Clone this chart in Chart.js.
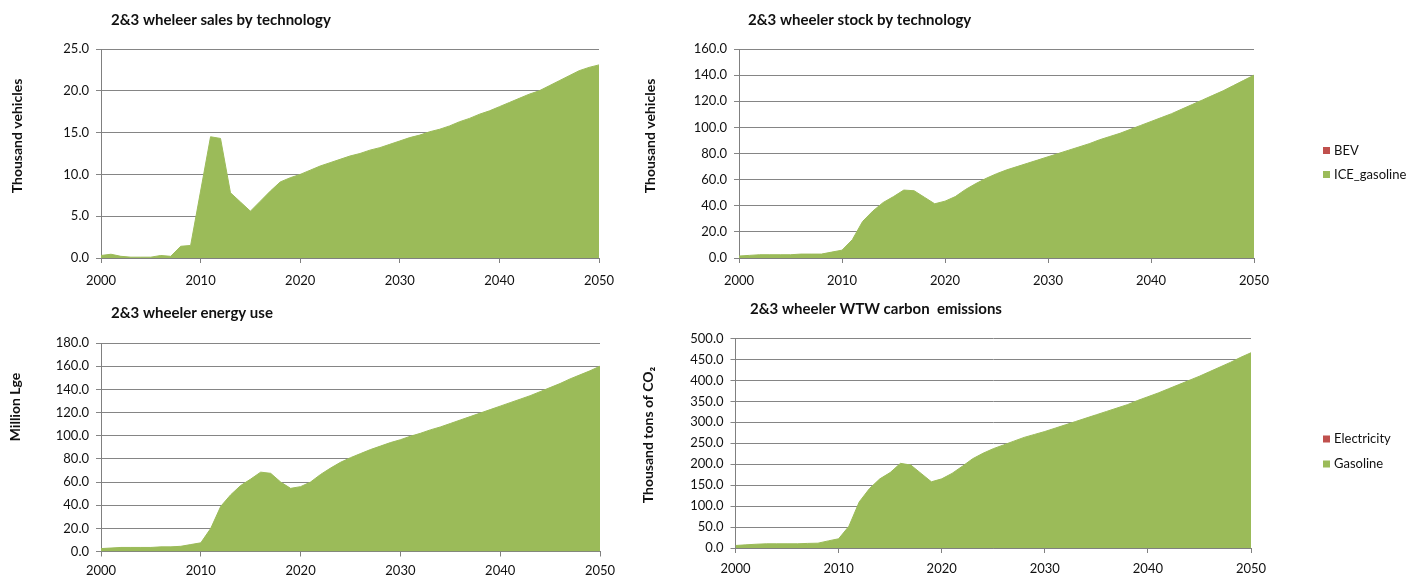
<!DOCTYPE html>
<html lang="en">
<head>
<meta charset="UTF-8">
<title>2&amp;3 wheeler outlook</title>
<style>
    body {
        margin: 0;
        background: #ffffff;
        width: 1421px;
        height: 575px;
        overflow: hidden;
        position: relative;
    }
    canvas {
        position: absolute;
        display: block;
    }
    #sales { left: 0; top: 0; }
    #stock { left: 620px; top: 0; }
    #energy { left: 0; top: 290px; }
    #carbon { left: 620px; top: 290px; }
</style>
<script src="https://cdn.jsdelivr.net/npm/chart.js@4/dist/chart.umd.min.js"></script>
</head>
<body>
<canvas id="sales" width="620" height="290"></canvas>
<canvas id="stock" width="801" height="290"></canvas>
<canvas id="energy" width="620" height="285"></canvas>
<canvas id="carbon" width="801" height="285"></canvas>
<script>
    const years = [
        2000, 2001, 2002, 2003, 2004, 2005, 2006, 2007, 2008, 2009,
        2010, 2011, 2012, 2013, 2014, 2015, 2016, 2017, 2018, 2019,
        2020, 2021, 2022, 2023, 2024, 2025, 2026, 2027, 2028, 2029,
        2030, 2031, 2032, 2033, 2034, 2035, 2036, 2037, 2038, 2039,
        2040, 2041, 2042, 2043, 2044, 2045, 2046, 2047, 2048, 2049, 2050
    ];

    // thousand vehicles sold per year
    const salesBev = [
        0, 0, 0, 0, 0, 0, 0, 0, 0, 0,
        0, 0, 0, 0, 0, 0, 0, 0, 0, 0,
        0, 0, 0, 0, 0, 0, 0, 0, 0, 0,
        0, 0, 0, 0, 0, 0, 0, 0, 0, 0,
        0, 0, 0, 0, 0, 0, 0, 0, 0, 0, 0
    ];
    const salesIce = [
        0.3, 0.45, 0.2, 0.1, 0.1, 0.1, 0.3, 0.2, 1.4, 1.5,
        8.0, 14.5, 14.3, 7.8, 6.7, 5.6, 6.8, 8.0, 9.1, 9.6,
        10.0, 10.5, 11.0, 11.4, 11.8, 12.2, 12.5, 12.9, 13.2, 13.6,
        14.0, 14.4, 14.7, 15.1, 15.4, 15.8, 16.3, 16.7, 17.2, 17.6,
        18.1, 18.6, 19.1, 19.6, 20.0, 20.6, 21.2, 21.8, 22.4, 22.8, 23.1
    ];

    // thousand vehicles on the road
    const stockBev = [
        0, 0, 0, 0, 0, 0, 0, 0, 0, 0,
        0, 0, 0, 0, 0, 0, 0, 0, 0, 0,
        0, 0, 0, 0, 0, 0, 0, 0, 0, 0,
        0, 0, 0, 0, 0, 0, 0, 0, 0, 0,
        0, 0, 0, 0, 0, 0, 0, 0, 0, 0, 0
    ];
    const stockIce = [
        1.5, 2.0, 2.5, 2.5, 2.5, 2.5, 3.0, 3.0, 3.0, 4.5,
        6.0, 14.0, 28.0, 36.0, 42.5, 47.0, 52.0, 51.5, 46.5, 41.5,
        43.5, 47.0, 52.5, 57.0, 61.0, 64.5, 67.5, 70.0, 72.5, 75.0,
        77.5, 80.0, 82.5, 85.0, 87.5, 90.5, 93.0, 95.5, 98.5, 101.5,
        104.5, 107.5, 110.5, 114.0, 117.5, 121.0, 124.5, 128.0, 132.0, 136.0, 140.0
    ];

    // million litres gasoline equivalent
    const energyElectricity = [
        0, 0, 0, 0, 0, 0, 0, 0, 0, 0,
        0, 0, 0, 0, 0, 0, 0, 0, 0, 0,
        0, 0, 0, 0, 0, 0, 0, 0, 0, 0,
        0, 0, 0, 0, 0, 0, 0, 0, 0, 0,
        0, 0, 0, 0, 0, 0, 0, 0, 0, 0, 0
    ];
    const energyGasoline = [
        2.5, 3.0, 3.5, 3.5, 3.5, 3.5, 4.0, 4.0, 4.5, 6.0,
        7.5, 20.0, 39.0, 49.0, 57.0, 62.5, 68.5, 67.5, 60.0, 54.5,
        56.0, 60.0, 66.5, 72.0, 77.0, 81.0, 84.5, 88.0, 91.0, 94.0,
        96.5, 99.5, 102.0, 105.0, 107.5, 110.5, 113.5, 116.5, 119.5, 122.5,
        125.5, 128.5, 131.5, 134.5, 138.0, 141.5, 145.0, 149.0, 152.5, 156.0, 160.0
    ];

    // thousand tons of CO2, well to wheel
    const carbonElectricity = [
        0, 0, 0, 0, 0, 0, 0, 0, 0, 0,
        0, 0, 0, 0, 0, 0, 0, 0, 0, 0,
        0, 0, 0, 0, 0, 0, 0, 0, 0, 0,
        0, 0, 0, 0, 0, 0, 0, 0, 0, 0,
        0, 0, 0, 0, 0, 0, 0, 0, 0, 0, 0
    ];
    const carbonGasoline = [
        6, 7.5, 9, 10, 10, 10, 10, 11, 11.5, 17,
        22, 52, 110, 142, 165, 180, 202, 198, 178, 158,
        165, 178, 195, 213, 226, 237, 246, 255, 264, 271,
        278, 286, 294, 302, 310, 318, 326, 334, 342, 352,
        361, 370, 380, 390, 400, 410, 421, 432, 443, 455, 466
    ];

    const RED = '#c0504d';
    const GREEN = '#9bbb59';
    const GRID = '#858585';
    const AXIS = '#808080';
    const TEXT = '#111111';
    const FONT = 'Lato, "Open Sans", sans-serif';

    // chart title, rotated axis title and the side legend, placed freely like the spreadsheet did
    const panelText = {
        id: 'panelText',
        afterDraw(chart, args, opts) {
            const ctx = chart.ctx;
            ctx.save();
            ctx.fillStyle = TEXT;
            ctx.textBaseline = 'middle';

            ctx.font = 'bold 15px ' + FONT;
            ctx.textAlign = 'left';
            ctx.fillText(opts.title, opts.titleX, opts.titleY);

            ctx.save();
            ctx.translate(opts.axisX, opts.axisY);
            ctx.rotate(-Math.PI / 2);
            ctx.textAlign = 'center';
            ctx.font = 'bold 14px ' + FONT;
            ctx.fillText(opts.axisTitle, 0, 0);
            ctx.restore();

            if (opts.legend) {
                ctx.font = '13px ' + FONT;
                chart.data.datasets.forEach((ds, i) => {
                    const y = opts.legendY + i * opts.legendGap;
                    ctx.fillStyle = ds.backgroundColor;
                    ctx.fillRect(opts.legendX, y - 3.5, 7, 7);
                    ctx.fillStyle = TEXT;
                    ctx.fillText(ds.label, opts.legendX + 11, y);
                });
            }
            ctx.restore();
        }
    };

    function buildChart(id, o) {
        return new Chart(document.getElementById(id), {
            type: 'line',
            data: {
                labels: years,
                datasets: [
                    {
                        label: o.names[0],
                        data: o.series[0],
                        backgroundColor: RED,
                        borderColor: 'rgba(0,0,0,0)',
                        fill: 'origin'
                    },
                    {
                        label: o.names[1],
                        data: o.series[1],
                        backgroundColor: GREEN,
                        borderColor: GREEN,
                        borderWidth: 1,
                        fill: '-1'
                    }
                ]
            },
            options: {
                responsive: false,
                animation: false,
                events: [],
                elements: {
                    point: { radius: 0 },
                    line: { tension: 0 }
                },
                layout: { padding: o.padding },
                plugins: {
                    legend: { display: false },
                    tooltip: { enabled: false },
                    panelText: o.text
                },
                scales: {
                    x: {
                        type: 'linear',
                        min: 2000,
                        max: 2050,
                        z: 1,
                        ticks: {
                            stepSize: 10,
                            autoSkip: false,
                            maxRotation: 0,
                            padding: o.xPad,
                            color: TEXT,
                            font: { family: FONT, size: 13 },
                            callback: v => String(v)
                        },
                        grid: { drawOnChartArea: false, tickLength: 5, color: AXIS },
                        border: { color: AXIS },
                        afterFit: s => {
                            // end labels may hang past the plot edge, the layout padding leaves room
                            s.height = o.xHeight;
                            s.paddingLeft = 0;
                            s.paddingRight = 0;
                        }
                    },
                    y: {
                        stacked: true,
                        min: 0,
                        max: o.max,
                        ticks: {
                            stepSize: o.step,
                            padding: 7,
                            color: TEXT,
                            font: { family: FONT, size: 13 },
                            callback: v => v.toFixed(1)
                        },
                        grid: { color: GRID, tickLength: 5 },
                        border: { color: AXIS },
                        afterFit: s => { s.width = o.yWidth; }
                    }
                }
            },
            plugins: [panelText]
        });
    }

    buildChart('sales', {
        names: ['BEV', 'ICE_gasoline'],
        series: [salesBev, salesIce],
        max: 25, step: 5,
        padding: { top: 49, right: 21, bottom: 0, left: 0 },
        yWidth: 101, xHeight: 32, xPad: 10,
        text: {
            title: '2&3 wheleer sales by technology', titleX: 111, titleY: 20,
            axisTitle: 'Thousand vehicles', axisX: 17, axisY: 136
        }
    });

    buildChart('stock', {
        names: ['BEV', 'ICE_gasoline'],
        series: [stockBev, stockIce],
        max: 160, step: 20,
        padding: { top: 49, right: 167, bottom: 0, left: 0 },
        yWidth: 119, xHeight: 32, xPad: 10,
        text: {
            title: '2&3 wheeler stock by technology', titleX: 128, titleY: 20,
            axisTitle: 'Thousand vehicles', axisX: 30, axisY: 136,
            legend: true, legendX: 703, legendY: 150.5, legendGap: 24
        }
    });

    buildChart('energy', {
        names: ['Electricity', 'Gasoline'],
        series: [energyElectricity, energyGasoline],
        max: 180, step: 20,
        padding: { top: 53, right: 20, bottom: 0, left: 0 },
        yWidth: 101, xHeight: 23.5, xPad: 7,
        text: {
            title: '2&3 wheeler energy use', titleX: 111, titleY: 23,
            axisTitle: 'Million Lge', axisX: 15, axisY: 117
        }
    });

    buildChart('carbon', {
        names: ['Electricity', 'Gasoline'],
        series: [carbonElectricity, carbonGasoline],
        max: 500, step: 50,
        padding: { top: 48.5, right: 170, bottom: 0, left: 0 },
        yWidth: 115.5, xHeight: 27, xPad: 8,
        text: {
            title: '2&3 wheeler WTW carbon  emissions', titleX: 130, titleY: 19,
            axisTitle: 'Thousand tons of CO\u2082', axisX: 28, axisY: 145,
            legend: true, legendX: 703, legendY: 149, legendGap: 25
        }
    });
</script>
</body>
</html>
